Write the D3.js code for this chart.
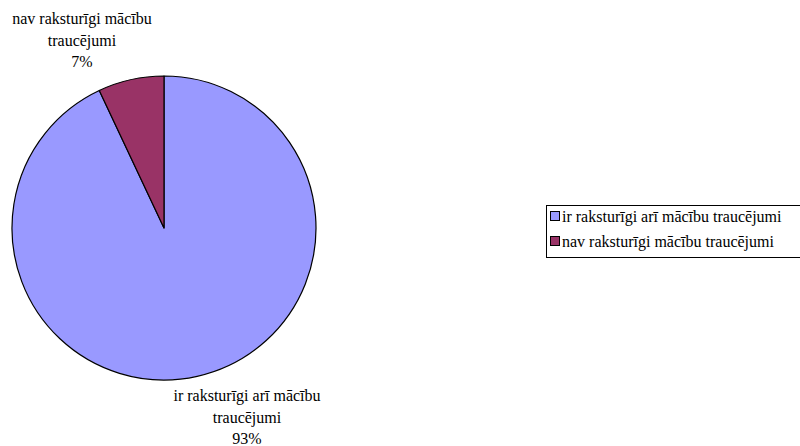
<!DOCTYPE html>
<html>
<head>
<meta charset="utf-8">
<script src="https://cdn.jsdelivr.net/npm/d3@7"></script>
<style>
  html, body { margin: 0; padding: 0; background: #fff; }
  .lbl { font-family: "Liberation Serif", "DejaVu Serif", serif; font-size: 16px; fill: #000; }
</style>
</head>
<body>
<svg id="chart" width="800" height="446"></svg>
<script>
// Answer categories and their shares (%)
const categories = ["ir raksturīgi arī mācību traucējumi", "nav raksturīgi mācību traucējumi"];
const values = [93, 7];
const percentLabels = ["93%", "7%"];
// Data label lines (category names wrapped)
const labelLines = [["ir raksturīgi arī mācību", "traucējumi"], ["nav raksturīgi mācību", "traucējumi"]];
const colors = ["#9999FF", "#993366"];

const svg = d3.select("#chart");
const cx = 164, cy = 228, r = 152;

const pie = d3.pie().sort(null).value(d => d)(values);
const arc = d3.arc().innerRadius(0).outerRadius(r);
const color = d3.scaleOrdinal().domain(categories).range(colors);

const g = svg.append("g").attr("transform", `translate(${cx},${cy})`);
g.selectAll("path")
  .data(pie)
  .join("path")
  .attr("d", arc)
  .attr("fill", (d, i) => color(categories[i]))
  .attr("stroke", "#000")
  .attr("stroke-width", 1.2)
  .attr("stroke-linejoin", "round");

// Data labels outside the pie
const labelPos = [
  { x: 247, y: 401 },
  { x: 82, y: 24 }
];
pie.forEach((d, i) => {
  const t = svg.append("text").attr("class", "lbl").attr("text-anchor", "middle");
  const lines = labelLines[i].concat([percentLabels[i]]);
  lines.forEach((ln, j) => {
    t.append("tspan").attr("x", labelPos[i].x).attr("y", labelPos[i].y + j * 21.5).text(ln);
  });
});

// Legend
const lg = svg.append("g").attr("transform", "translate(546,205)");
lg.append("rect").attr("x", 0.5).attr("y", 0.5).attr("width", 255).attr("height", 52)
  .attr("fill", "#fff").attr("stroke", "#000").attr("stroke-width", 1);
categories.forEach((c, i) => {
  const y = 6 + i * 25;
  lg.append("rect").attr("x", 4.5).attr("y", y + 0.5).attr("width", 9).attr("height", 9)
    .attr("fill", color(c)).attr("stroke", "#000").attr("stroke-width", 1);
  lg.append("text").attr("class", "lbl").attr("x", 16).attr("y", y + 11).text(c);
});
</script>
</body>
</html>
